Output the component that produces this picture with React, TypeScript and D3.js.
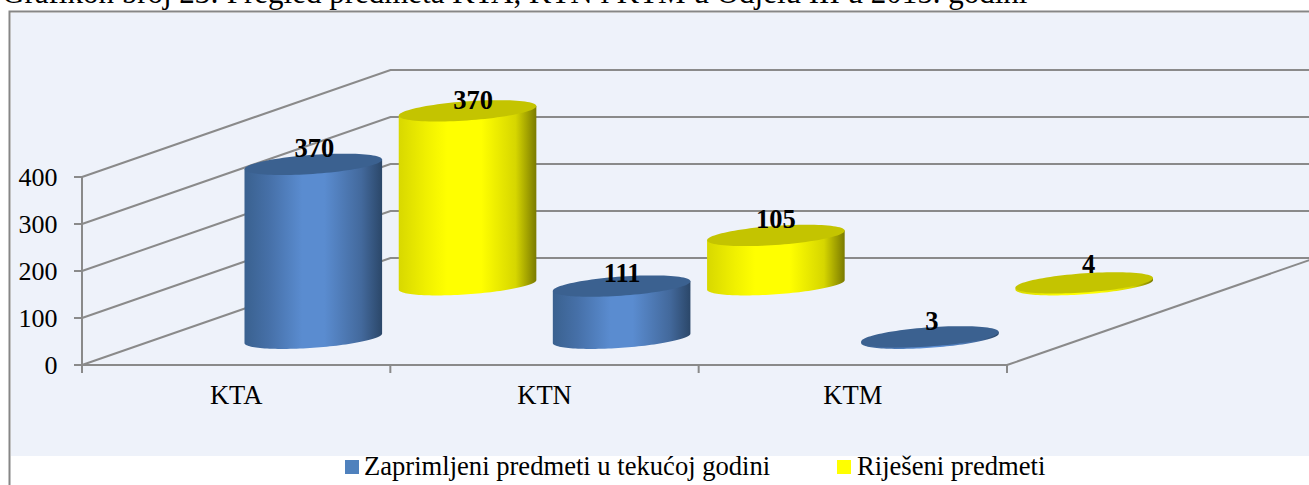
import React from "react";
import * as d3 from "d3";

const categories = ["KTA", "KTN", "KTM"];
const seriesNames = ["Zaprimljeni predmeti u tekućoj godini", "Riješeni predmeti"];
const received = [370, 111, 3];
const resolved = [370, 105, 4];
const yTicks = [0, 100, 200, 300, 400];
const title = "Grafikon broj 23: Pregled predmeta KTA, KTN i KTM u Odjelu III u 2015. godini";

const W = 1309, H = 485;
const FONT = "'Liberation Serif', 'Times New Roman', serif";
const GRID = "#8A8A8A";

// oblique projection of the chart box
const xBand = d3.scaleBand<string>().domain(categories).range([82, 1007]);
const yVal = d3.scaleLinear().domain([0, 400]).range([365, 177]);
const DEPTH_DX = 308.5, DEPTH_DY = -107;
const depthX = (d: number) => d * DEPTH_DX;
const depthY = (d: number) => d * DEPTH_DY;

const BAR_RX = 61.5;   // px, along the x axis
const BAR_RD = 0.1;    // depth units

const ellipsePt = (cx: number, cy: number, t: number): [number, number] => [
  cx + BAR_RX * Math.cos(t) + depthX(BAR_RD * Math.sin(t)),
  cy + depthY(BAR_RD * Math.sin(t)),
];

// angle at which the projected ellipse reaches its right-most point
const tRight = Math.atan2(depthX(BAR_RD), BAR_RX);
const line = d3.line();
const steps = d3.range(0, 65).map((i) => i / 64);

const bodyPath = (cx: number, yBase: number, yTop: number) => {
  // from the right silhouette point round the front to the left one
  const front = steps.map((s) => ellipsePt(cx, yBase, tRight - s * Math.PI));
  const pts: [number, number][] = [
    ellipsePt(cx, yTop, tRight),
    ...front,
    ellipsePt(cx, yTop, tRight - Math.PI),
  ];
  return line(pts) + "Z";
};
const topPath = (cx: number, yTop: number) =>
  line(d3.range(0, 96).map((i) => ellipsePt(cx, yTop, (i / 96) * 2 * Math.PI))) + "Z";

const series = [
  { name: seriesNames[0], values: received, depth: 0.25, grad: "gBlue", top: "#3B6190", swatch: "#4F81BD",
    nudge: [[1, -1], [0.5, 2], [2, 0]] },
  { name: seriesNames[1], values: resolved, depth: 0.75, grad: "gYellow", top: "#C4C400", swatch: "#FFFF00",
    nudge: [[5.5, 4.5], [0, -1], [4.5, -3]] },
];
const legendPos = [
  { sx: 345, tx: 364 },
  { sx: 837, tx: 857 },
];

export default function App() {
  const x0 = xBand.range()[0];
  const x1 = xBand.range()[1];
  const right = W + 2;
  return (
    <svg
      width={W}
      height={H}
      viewBox={`0 0 ${W} ${H}`}
      style={{ position: "absolute", left: 0, top: 0, display: "block", background: "#fff" }}
      fontFamily={FONT}
    >
      <defs>
        <linearGradient id="gBlue" x1="0" x2="1" y1="0" y2="0">
          <stop offset="0" stopColor="#3A618F" />
          <stop offset="0.18" stopColor="#4670A8" />
          <stop offset="0.42" stopColor="#5A8CD0" />
          <stop offset="0.58" stopColor="#5A8CD0" />
          <stop offset="0.85" stopColor="#43699C" />
          <stop offset="1" stopColor="#2B4769" />
        </linearGradient>
        <linearGradient id="gYellow" x1="0" x2="1" y1="0" y2="0">
          <stop offset="0" stopColor="#D8D800" />
          <stop offset="0.2" stopColor="#F0F000" />
          <stop offset="0.35" stopColor="#FFFF00" />
          <stop offset="0.6" stopColor="#FFFF00" />
          <stop offset="0.85" stopColor="#D6D600" />
          <stop offset="1" stopColor="#7A7A00" />
        </linearGradient>
      </defs>

      <rect x={11} y={13} width={W - 11} height={443} fill="#EEF2FA" />
      <path d={`M9.5 ${H}V11.5H${W}`} fill="none" stroke="#868686" strokeWidth={2} />

      <text x={2} y={3} fontSize={31} fill="#000">{title}</text>

      {/* walls and gridlines */}
      <g stroke={GRID} strokeWidth={2} fill="none">
        {yTicks.map((t) => (
          <path
            key={t}
            d={`M${x0} ${yVal(t)}L${x0 + DEPTH_DX} ${yVal(t) + DEPTH_DY}H${right}`}
          />
        ))}
        <path d={`M${x0} ${yVal(400)}V${yVal(0)}H${x1}`} />
        <path d={`M${x1} ${yVal(0)}L${x1 + DEPTH_DX} ${yVal(0) + DEPTH_DY}`} />
        {yTicks.map((t) => (
          <path key={t} d={`M${x0 - 8} ${yVal(t)}H${x0}`} />
        ))}
        {[...categories.map((c) => xBand(c)!), x1].map((v) => (
          <path key={v} d={`M${v} ${yVal(0)}V${yVal(0) + 8}`} />
        ))}
      </g>

      {yTicks.map((t) => (
        <text key={t} x={57.5} y={yVal(t) + 8.5} fontSize={26} textAnchor="end" fill="#000">
          {t}
        </text>
      ))}
      {categories.map((c) => (
        <text
          key={c}
          x={xBand(c)! + xBand.bandwidth() / 2}
          y={403.5}
          fontSize={26.6}
          textAnchor="middle"
          fill="#000"
        >
          {c}
        </text>
      ))}

      {/* cylinders, back series first */}
      {[series[1], series[0]].flatMap((s) =>
        categories.map((c, i) => {
          const cx = xBand(c)! + xBand.bandwidth() / 2 + depthX(s.depth);
          const yBase = yVal(0) + depthY(s.depth);
          const yTop = yVal(s.values[i]) + depthY(s.depth);
          return (
            <g key={s.name + c}>
              <path d={bodyPath(cx, yBase, yTop)} fill={`url(#${s.grad})`} />
              <path d={topPath(cx, yTop)} fill={s.top} />
            </g>
          );
        })
      )}

      {/* value labels */}
      {series.flatMap((s) =>
        categories.map((c, i) => {
          const cx = xBand(c)! + xBand.bandwidth() / 2 + depthX(s.depth);
          const yTop = yVal(s.values[i]) + depthY(s.depth);
          return (
            <text
              key={s.name + c}
              x={cx + s.nudge[i][0]}
              y={yTop - 6.5 + s.nudge[i][1]}
              fontSize={26.5}
              fontWeight="bold"
              textAnchor="middle"
              fill="#000"
            >
              {s.values[i]}
            </text>
          );
        })
      )}

      {/* legend */}
      {series.map((s, i) => (
        <g key={s.name}>
          <rect x={legendPos[i].sx} y={460} width={14} height={14} fill={s.swatch} />
          <text x={legendPos[i].tx} y={475} fontSize={26.6} fill="#000">
            {s.name}
          </text>
        </g>
      ))}
    </svg>
  );
}
